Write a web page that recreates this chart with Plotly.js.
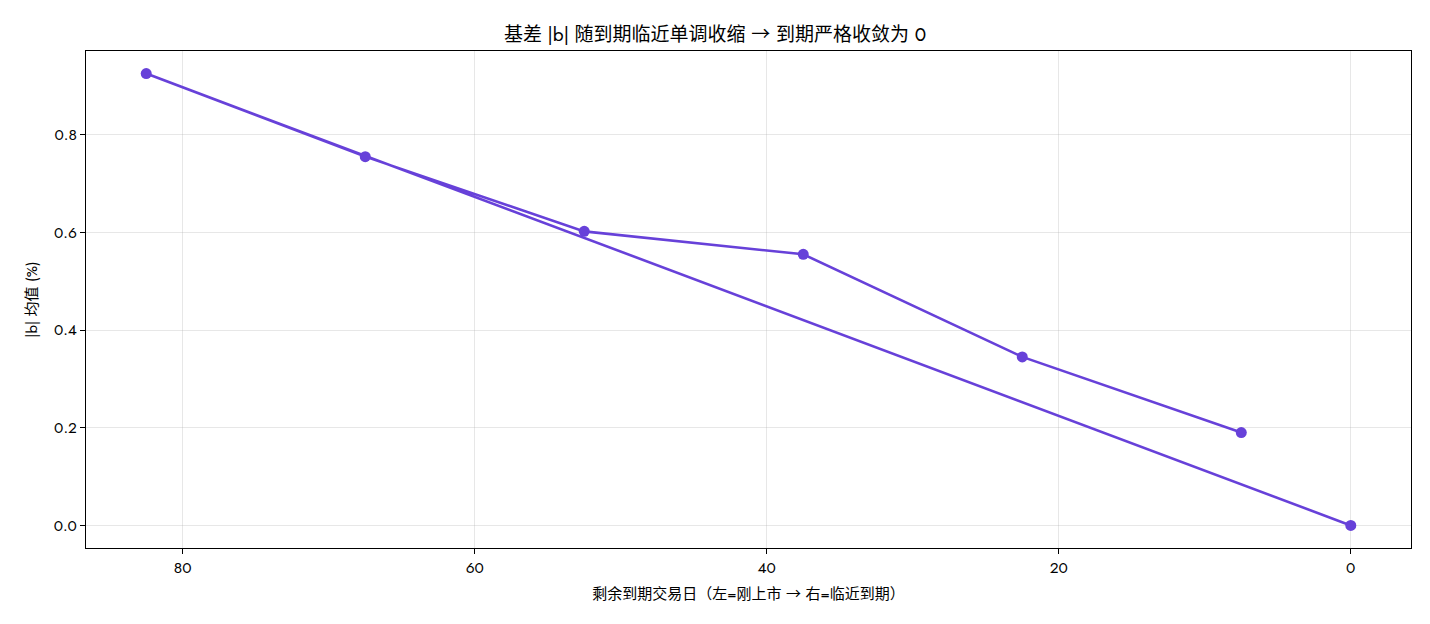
<!DOCTYPE html>
<html><head><meta charset="utf-8">
<script src="https://cdn.plot.ly/plotly-3.0.1.min.js"></script>
<style>html,body{margin:0;padding:0;background:#fff}#chart{width:1430px;height:624px}</style>
</head><body><div id="chart"></div>
<script>
const daysToExpiry = [0, 82.5, 67.5, 52.5, 37.5, 22.5, 7.5];
const absBasisMean = [0.0, 0.925, 0.755, 0.602, 0.555, 0.345, 0.19];
const xTicks = [80, 60, 40, 20, 0];
const yTicks = [0.0, 0.2, 0.4, 0.6, 0.8];
const titleText = '基差 |b| 随到期临近单调收缩 → 到期严格收敛为 0';
const xTitle = '剩余到期交易日（左=刚上市 → 右=临近到期）';
const yTitle = '|b| 均值 (%)';
const color = '#6741d9';
const fontFam = 'Jost, "Noto Sans CJK SC", "Noto Sans", sans-serif';

const trace = {
  x: daysToExpiry, y: absBasisMean, type: 'scatter', mode: 'lines+markers',
  line: {color: color, width: 2.6}, marker: {color: color, size: 11},
  showlegend: false, hoverinfo: 'x+y'
};
const axisCommon = {
  showline: true, mirror: true, linecolor: '#000', linewidth: 1,
  ticks: 'outside', ticklen: 5, tickwidth: 1, tickcolor: '#000',
  showgrid: true, gridcolor: 'rgba(176,176,176,0.3)', gridwidth: 1,
  zeroline: false, tickfont: {size: 15.5, color: '#000', family: fontFam}
};
const layout = {
  width: 1430, height: 624,
  margin: {l: 86, r: 19, t: 51, b: 76},
  paper_bgcolor: '#fff', plot_bgcolor: '#fff',
  font: {family: fontFam, color: '#000'},
  title: {text: titleText, x: 0.5, xanchor: 'center', y: 1, yref: 'paper', yanchor: 'bottom', pad: {b: 10},
          font: {size: 19, color: '#000', family: fontFam}},
  xaxis: Object.assign({}, axisCommon, {
    range: [86.625, -4.125], tickvals: xTicks, ticktext: xTicks.map(String),
    title: {text: xTitle, font: {size: 15, color: '#000', family: fontFam}, standoff: 10}
  }),
  yaxis: Object.assign({}, axisCommon, {
    range: [-0.04625, 0.97125], tickvals: yTicks, ticktext: yTicks.map(v => v.toFixed(1)),
    title: {text: yTitle, font: {size: 15, color: '#000', family: fontFam}, standoff: 12}
  })
};
Plotly.newPlot('chart', [trace], layout, {displayModeBar: false, staticPlot: true});
</script></body></html>
